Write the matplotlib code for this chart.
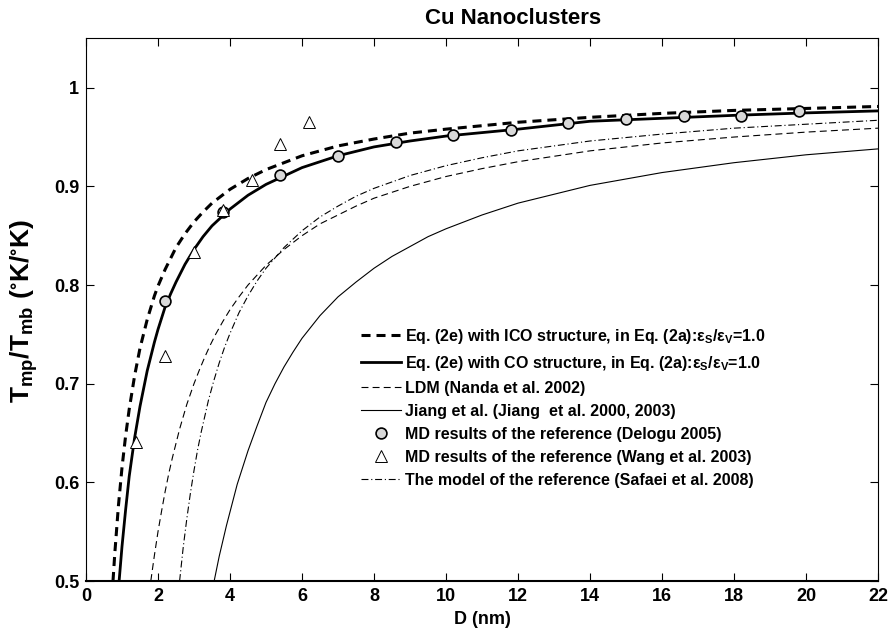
import matplotlib
matplotlib.use("Agg")
import matplotlib.pyplot as plt

plt.rcParams['font.family'] = ['Liberation Sans', 'DejaVu Sans']
plt.rcParams['font.weight'] = 'bold'
plt.rcParams['mathtext.fontset'] = 'custom'
plt.rcParams['mathtext.rm'] = 'Liberation Sans'
plt.rcParams['mathtext.it'] = 'Liberation Sans:italic'
plt.rcParams['mathtext.bf'] = 'Liberation Sans:bold'
plt.rcParams['mathtext.default'] = 'regular'
plt.rcParams['lines.scale_dashes'] = False

# ---- data ----
D_ico = [0.75, 0.8, 0.9, 1.0, 1.1, 1.2, 1.35, 1.5, 1.7, 1.9, 2.0, 2.2, 2.5, 2.75, 3.0,
         3.25, 3.5, 4.0, 4.5, 5.0, 6.0, 7.0, 8.0, 9.0, 10, 12, 14, 16, 18, 20, 22]
T_ico = [0.500, 0.528, 0.576, 0.615, 0.647, 0.674, 0.708, 0.736, 0.765, 0.789, 0.799,
         0.816, 0.838, 0.852, 0.864, 0.874, 0.883, 0.897, 0.908, 0.917, 0.931, 0.941,
         0.948, 0.954, 0.958, 0.965, 0.970, 0.974, 0.977, 0.979, 0.981]

D_co = [0.92, 1.0, 1.1, 1.2, 1.35, 1.5, 1.7, 1.9, 2.0, 2.2, 2.35, 2.5, 2.75, 3.0, 3.25,
        3.5, 4.0, 4.5, 5.0, 6.0, 7.0, 8.0, 9.0, 10, 12, 14, 16, 18, 20, 22]
T_co = [0.500, 0.535, 0.572, 0.606, 0.645, 0.677, 0.713, 0.742, 0.755, 0.778, 0.791,
        0.803, 0.821, 0.836, 0.849, 0.860, 0.877, 0.891, 0.902, 0.919, 0.931, 0.940,
        0.946, 0.951, 0.958, 0.966, 0.969, 0.972, 0.9745, 0.9765]

D_ldm = [1.8, 1.9, 2.0, 2.1, 2.2, 2.3, 2.4, 2.6, 2.8, 3.0, 3.15, 3.3, 3.45, 3.6, 3.8,
         4.0, 4.25, 4.5, 5.0, 5.5, 6.0, 6.5, 7.0, 7.5, 8.0, 9.0, 10, 11, 12, 14, 16,
         18, 20, 22]
T_ldm = [0.500, 0.526, 0.550, 0.571, 0.591, 0.609, 0.625, 0.654, 0.679, 0.700, 0.714,
         0.727, 0.739, 0.750, 0.763, 0.775, 0.788, 0.800, 0.820, 0.836, 0.850, 0.862,
         0.871, 0.880, 0.888, 0.900, 0.910, 0.918, 0.925, 0.936, 0.944, 0.950, 0.955,
         0.959]

D_jiang = [3.56, 3.7, 3.9, 4.0, 4.2, 4.5, 4.75, 5.0, 5.25, 5.5, 5.75, 6.0, 6.5, 7.0,
           7.5, 8.0, 8.5, 9.0, 9.5, 10, 11, 12, 13, 14, 16, 18, 20, 22]
T_jiang = [0.500, 0.525, 0.556, 0.570, 0.598, 0.632, 0.657, 0.681, 0.700, 0.717, 0.732,
           0.746, 0.769, 0.788, 0.803, 0.817, 0.829, 0.839, 0.849, 0.857, 0.871, 0.883,
           0.892, 0.901, 0.914, 0.924, 0.932, 0.938]

D_saf = [2.6, 2.7, 2.8, 2.9, 3.0, 3.1, 3.2, 3.4, 3.55, 3.7, 3.85, 4.0, 4.25, 4.5, 4.75,
         5.0, 5.5, 6.0, 6.5, 7.0, 7.5, 8.0, 9.0, 10, 11, 12, 14, 16, 18, 20, 22]
T_saf = [0.500, 0.534, 0.563, 0.589, 0.612, 0.633, 0.651, 0.683, 0.703, 0.721, 0.737,
         0.751, 0.772, 0.789, 0.804, 0.817, 0.838, 0.855, 0.869, 0.880, 0.890, 0.898,
         0.911, 0.921, 0.929, 0.936, 0.946, 0.953, 0.959, 0.963, 0.967]

D_delogu = [2.2, 3.8, 5.4, 7.0, 8.6, 10.2, 11.8, 13.4, 15.0, 16.6, 18.2, 19.8]
T_delogu = [0.784, 0.874, 0.912, 0.931, 0.9445, 0.952, 0.957, 0.9645, 0.968, 0.971,
            0.9716, 0.976]

D_wang = [1.4, 2.2, 3.0, 3.8, 4.6, 5.4, 6.2]
T_wang = [0.641, 0.728, 0.833, 0.876, 0.906, 0.943, 0.965]

x_ticks = [0, 2, 4, 6, 8, 10, 12, 14, 16, 18, 20, 22]
y_ticks = [0.5, 0.6, 0.7, 0.8, 0.9, 1.0]
y_ticklabels = ['0.5', '0.6', '0.7', '0.8', '0.9', '1']

labels = [
    r'Eq. (2e) with ICO structure, in Eq. (2a):$\varepsilon_{\mathbf{S}}/\varepsilon_{\mathbf{V}}$=1.0',
    r'Eq. (2e) with CO structure, in Eq. (2a):$\varepsilon_{\mathbf{S}}/\varepsilon_{\mathbf{V}}$=1.0',
    'LDM (Nanda et al. 2002)',
    'Jiang et al. (Jiang  et al. 2000, 2003)',
    'MD results of the reference (Delogu 2005)',
    'MD results of the reference (Wang et al. 2003)',
    'The model of the reference (Safaei et al. 2008)',
]

# ---- figure ----
fig = plt.figure(figsize=(8.91, 6.34), dpi=100)
ax = fig.add_axes([86/891, 53/634, 792/891, 543/634])

l_ico, = ax.plot(D_ico, T_ico, color='black', lw=2.2, dashes=(6.5, 4.3), zorder=3)
l_co, = ax.plot(D_co, T_co, color='black', lw=2.0, zorder=3)
l_ldm, = ax.plot(D_ldm, T_ldm, color='black', lw=0.8, dashes=(5, 3), zorder=2)
l_jiang, = ax.plot(D_jiang, T_jiang, color='black', lw=0.8, zorder=2)
l_del, = ax.plot(D_delogu, T_delogu, ls='none', marker='o', ms=7.8,
                 mfc='#d9d9d9', mec='black', mew=1.2, zorder=5)
l_wang, = ax.plot(D_wang, T_wang, ls='none', marker='^', ms=8.5,
                  mfc='white', mec='black', mew=0.7, zorder=5)
l_saf, = ax.plot(D_saf, T_saf, color='black', lw=0.8, dashes=(5, 2, 0.8, 2), zorder=2)

ax.set_xlim(0, 22)
ax.set_ylim(0.5, 1.0504)
ax.set_xticks(x_ticks)
ax.set_xticklabels([str(v) for v in x_ticks])
ax.set_yticks(y_ticks)
ax.set_yticklabels(y_ticklabels)
ax.tick_params(direction='in', length=6, width=0.8, top=True, right=True,
               labelsize=13, pad=5)
for lab in ax.get_xticklabels() + ax.get_yticklabels():
    lab.set_fontweight('bold')
for s in ['left', 'right', 'top']:
    ax.spines[s].set_linewidth(0.8)
ax.spines['bottom'].set_linewidth(1.5)

fig.text(513/891, 1 - 19/634, 'Cu Nanoclusters', ha='center', va='center',
         fontsize=16, fontweight='bold')
fig.text(482/891, 1 - 619/634, 'D (nm)', ha='center', va='center',
         fontsize=13, fontweight='bold')
fig.text(24/891, 1 - 311/634,
         r'$\mathbf{T_{mp}/T_{mb}}$ ($^{\circ}$K/$^{\circ}$K)',
         ha='center', va='center', rotation=90, fontsize=19, fontweight='bold')

leg = ax.legend([l_ico, l_co, l_ldm, l_jiang, l_del, l_wang, l_saf], labels,
                loc='upper left', bbox_to_anchor=(361/891, 1 - 327/634),
                bbox_transform=fig.transFigure, frameon=False, fontsize=11.5,
                handlelength=2.5, handletextpad=0.25, labelspacing=0.5,
                borderpad=0, borderaxespad=0, numpoints=1)
for t in leg.get_texts():
    t.set_fontweight('bold')

fig.savefig('out.png', dpi=100)
